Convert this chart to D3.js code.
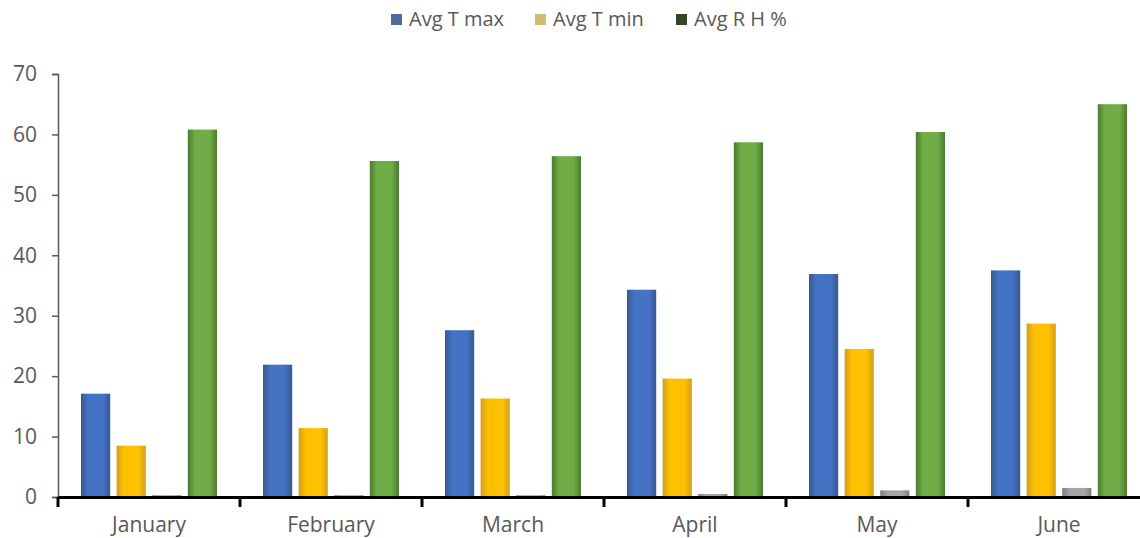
<!DOCTYPE html>
<html>
<head>
<meta charset="utf-8">
<script src="https://cdn.jsdelivr.net/npm/d3@7"></script>
<style>
  body { margin: 0; background: #fff; }
  svg { display: block; }
  text { font-family: "Open Sans", "Noto Sans", sans-serif; }
</style>
</head>
<body>
<svg id="chart" width="1140" height="538"></svg>
<script>
const months = ["January", "February", "March", "April", "May", "June"];
const series = ["Avg T max", "Avg T min", "Avg Rain", "Avg R H %"];
const tMax = [17.1, 21.9, 27.6, 34.3, 36.9, 37.5];
const tMin = [8.5, 11.4, 16.3, 19.6, 24.5, 28.7];
const rain = [0.3, 0.3, 0.3, 0.5, 1.1, 1.5];
const rh = [60.8, 55.6, 56.4, 58.7, 60.4, 65.0];
const legendItems = ["Avg T max", "Avg T min", "Avg R H %"];
const yTicks = [0, 10, 20, 30, 40, 50, 60, 70];

const values = [tMax, tMin, rain, rh];
const barColors = ["#4472c4", "#ffc000", "#a5a5a5", "#70ad47"];
const edgeColors = ["#36598f", "#d29f1c", "#7f7f7f", "#4b7a30"];
const legendColors = ["#4f6a9b", "#d3bb72", "#2f4a22"];

const svg = d3.select("#chart");

const x = d3.scaleBand().domain(months).range([58, 1150]);
const xs = d3.scaleBand().domain(series).range([23, 159]).paddingInner(0.18);
const y = d3.scaleLinear().domain([0, 70]).range([497, 74]);

// gradients for the shaded bars
const defs = svg.append("defs");
series.forEach((s, i) => {
    const g = defs.append("linearGradient")
        .attr("id", "grad" + i)
        .attr("x1", 0).attr("x2", 1).attr("y1", 0).attr("y2", 0);
    g.append("stop").attr("offset", "0%").attr("stop-color", edgeColors[i]);
    g.append("stop").attr("offset", "25%").attr("stop-color", barColors[i]);
    g.append("stop").attr("offset", "75%").attr("stop-color", barColors[i]);
    g.append("stop").attr("offset", "100%").attr("stop-color", edgeColors[i]);
});

// y axis
const yAxis = svg.append("g")
    .attr("transform", "translate(58,0)")
    .call(d3.axisLeft(y).tickValues(yTicks).tickSize(6).tickPadding(15));
yAxis.attr("font-family", null);
yAxis.select(".domain").attr("stroke", "#595959").attr("stroke-width", 1.5);
yAxis.selectAll(".tick line").attr("stroke", "#595959").attr("stroke-width", 1.5);
yAxis.selectAll(".tick text")
    .attr("fill", "#595959")
    .style("font-size", "21px");

// bars
const groups = svg.append("g")
    .selectAll("g")
    .data(months)
    .join("g")
    .attr("transform", d => `translate(${x(d)},0)`);

groups.selectAll("rect")
    .data((m, mi) => series.map((s, si) => ({ s, si, v: values[si][mi] })))
    .join("rect")
    .attr("x", d => xs(d.s))
    .attr("width", xs.bandwidth())
    .attr("y", d => y(d.v))
    .attr("height", d => y(0) - y(d.v))
    .attr("fill", d => `url(#grad${d.si})`);

// x axis
const xAxis = svg.append("g")
    .attr("transform", `translate(0,${y(0)})`)
    .call(d3.axisBottom(x).tickSize(0).tickPadding(20));
xAxis.attr("font-family", null);
xAxis.select(".domain").attr("stroke", "#000").attr("stroke-width", 3);
xAxis.selectAll(".tick text")
    .attr("fill", "#595959")
    .style("font-size", "21px");

svg.append("g")
    .selectAll("line")
    .data(months)
    .join("line")
    .attr("x1", d => x(d)).attr("x2", d => x(d))
    .attr("y1", y(0)).attr("y2", y(0) + 10)
    .attr("stroke", "#000").attr("stroke-width", 3);

// legend
const legendX = [391, 535, 676];
const legend = svg.append("g")
    .selectAll("g")
    .data(legendItems)
    .join("g")
    .attr("transform", (d, i) => `translate(${legendX[i]},14)`);
legend.append("rect")
    .attr("width", 11).attr("height", 11)
    .attr("fill", (d, i) => legendColors[i]);
legend.append("text")
    .attr("x", 18).attr("y", 12)
    .attr("fill", "#595959")
    .style("font-size", "20px")
    .text(d => d);
</script>
</body>
</html>
